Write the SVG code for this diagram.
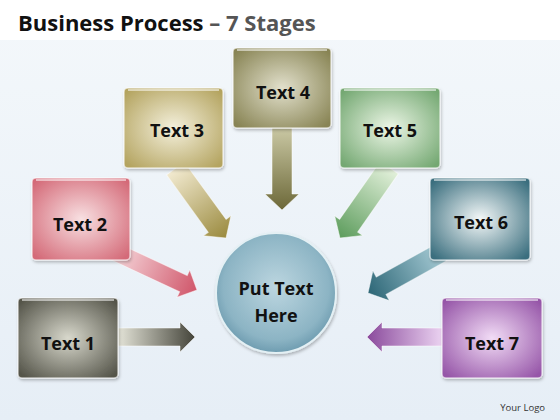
<svg xmlns="http://www.w3.org/2000/svg" width="560" height="420" viewBox="0 0 560 420">
<defs>
<linearGradient id="bg" x1="0" y1="0" x2="0" y2="1">
<stop offset="0" stop-color="#f4f8fb"/><stop offset="1" stop-color="#e6eef6"/>
</linearGradient>
<radialGradient id="g1" cx="0.5" cy="0.5" r="0.65"><stop offset="0" stop-color="#d8d8cc"/><stop offset="1" stop-color="#55554a"/></radialGradient>
<radialGradient id="g2" cx="0.5" cy="0.5" r="0.65"><stop offset="0" stop-color="#f8e0e2"/><stop offset="1" stop-color="#d46a78"/></radialGradient>
<radialGradient id="g3" cx="0.5" cy="0.5" r="0.65"><stop offset="0" stop-color="#f4f0dc"/><stop offset="1" stop-color="#b4a460"/></radialGradient>
<radialGradient id="g4" cx="0.5" cy="0.5" r="0.65"><stop offset="0" stop-color="#e2e0cc"/><stop offset="1" stop-color="#888454"/></radialGradient>
<radialGradient id="g5" cx="0.5" cy="0.5" r="0.65"><stop offset="0" stop-color="#ecf6e6"/><stop offset="1" stop-color="#74a872"/></radialGradient>
<radialGradient id="g6" cx="0.5" cy="0.5" r="0.65"><stop offset="0" stop-color="#f4f8f8"/><stop offset="1" stop-color="#3a6e7e"/></radialGradient>
<radialGradient id="g7" cx="0.5" cy="0.5" r="0.65"><stop offset="0" stop-color="#f2dcf6"/><stop offset="1" stop-color="#9656a8"/></radialGradient>
<radialGradient id="gc" cx="0.5" cy="0.45" r="0.55"><stop offset="0" stop-color="#bcd6e0"/><stop offset="0.8" stop-color="#8cb4c4"/><stop offset="1" stop-color="#6e9cb0"/></radialGradient>
<linearGradient id="a1" x1="0" y1="0" x2="1" y2="0"><stop offset="0" stop-color="#e4e4d8"/><stop offset="1" stop-color="#44443a"/></linearGradient>
<linearGradient id="a2" x1="0" y1="0" x2="1" y2="0"><stop offset="0" stop-color="#f6d8dc"/><stop offset="1" stop-color="#d0566a"/></linearGradient>
<linearGradient id="a3" x1="0" y1="0" x2="1" y2="0"><stop offset="0" stop-color="#f2ead0"/><stop offset="1" stop-color="#9a8a3e"/></linearGradient>
<linearGradient id="a4" x1="0" y1="0" x2="1" y2="0"><stop offset="0" stop-color="#cac8a4"/><stop offset="1" stop-color="#6c6838"/></linearGradient>
<linearGradient id="a5" x1="0" y1="0" x2="1" y2="0"><stop offset="0" stop-color="#e2f0da"/><stop offset="1" stop-color="#5c9c5c"/></linearGradient>
<linearGradient id="a6" x1="0" y1="0" x2="1" y2="0"><stop offset="0" stop-color="#a8ccd6"/><stop offset="1" stop-color="#2c6676"/></linearGradient>
<linearGradient id="a7" x1="0" y1="0" x2="1" y2="0"><stop offset="0" stop-color="#ecd4f2"/><stop offset="1" stop-color="#8a4a9c"/></linearGradient>
<filter id="sh" x="-10%" y="-10%" width="130%" height="130%"><feDropShadow dx="1" dy="2" stdDeviation="1.5" flood-color="#000" flood-opacity="0.25"/></filter>
</defs>
<style>
.box{stroke:#ffffff;stroke-opacity:0.6;stroke-width:1.5;filter:url(#sh)}
.hl{fill:none;stroke:#ffffff;stroke-opacity:0.7;stroke-width:1.5}
.lbl{font-family:"Open Sans",Lato,"Liberation Sans",sans-serif;font-weight:bold;font-size:18px;fill:#111;text-anchor:middle}
.arr{stroke:#ffffff;stroke-opacity:0.5;stroke-width:1}
</style>
<rect width="560" height="420" fill="url(#bg)"/>
<rect width="560" height="40" fill="#ffffff"/>
<text x="18" y="31" font-family="'Open Sans',Lato,'Liberation Sans',sans-serif" font-weight="bold" font-size="22" fill="#111">Business Process<tspan fill="#555"> – 7 Stages</tspan></text>

<g id="connectors">
<polygon class="arr" fill="url(#a1)" transform="translate(195,337)" points="-77,-9 -15,-9 -15,-15 0,0 -15,15 -15,9 -77,9"/>
<polygon class="arr" fill="url(#a2)" transform="translate(197,290) rotate(25)" points="-90,-9 -15,-9 -15,-15 0,0 -15,15 -15,9 -90,9"/>
<polygon class="arr" fill="url(#a3)" transform="translate(226,238) rotate(54)" points="-86,-11 -15,-11 -15,-17 0,0 -15,17 -15,11 -86,11"/>
<polygon class="arr" fill="url(#a4)" transform="translate(282,210) rotate(90)" points="-82,-10 -16,-10 -16,-17 0,0 -16,17 -16,10 -82,10"/>
<polygon class="arr" fill="url(#a5)" transform="translate(340,238) rotate(125)" points="-86,-11 -15,-11 -15,-17 0,0 -15,17 -15,11 -86,11"/>
<polygon class="arr" fill="url(#a6)" transform="translate(368,293) rotate(151)" points="-84,-10 -15,-10 -15,-17 0,0 -15,17 -15,10 -84,10"/>
<polygon class="arr" fill="url(#a7)" transform="translate(367,337) rotate(180)" points="-76,-9 -15,-9 -15,-15 0,0 -15,15 -15,9 -76,9"/>
</g>

<g id="center">
<circle cx="276" cy="293" r="60" fill="url(#gc)" stroke="#e4f0f4" stroke-width="2" filter="url(#sh)"/>
<text class="lbl" x="276" y="295">Put Text</text>
<text class="lbl" x="276" y="322">Here</text>
</g>

<g id="n1">
<rect class="box" x="18" y="298" width="100" height="80" rx="4" fill="url(#g1)"/>
<line class="hl" x1="22" y1="300" x2="114" y2="300"/>
<text class="lbl" x="68" y="350">Text 1</text>
</g>
<g id="n2">
<rect class="box" x="32" y="178" width="98" height="82" rx="4" fill="url(#g2)"/>
<line class="hl" x1="36" y1="180" x2="126" y2="180"/>
<text class="lbl" x="80" y="231">Text 2</text>
</g>
<g id="n3">
<rect class="box" x="124" y="88" width="99" height="80" rx="4" fill="url(#g3)"/>
<line class="hl" x1="128" y1="90" x2="219" y2="90"/>
<text class="lbl" x="177" y="137">Text 3</text>
</g>
<g id="n4">
<rect class="box" x="233" y="48" width="98" height="80" rx="4" fill="url(#g4)"/>
<line class="hl" x1="237" y1="50" x2="327" y2="50"/>
<text class="lbl" x="283" y="99">Text 4</text>
</g>
<g id="n5">
<rect class="box" x="340" y="88" width="100" height="80" rx="4" fill="url(#g5)"/>
<line class="hl" x1="344" y1="90" x2="436" y2="90"/>
<text class="lbl" x="390" y="137">Text 5</text>
</g>
<g id="n6">
<rect class="box" x="430" y="178" width="100" height="82" rx="4" fill="url(#g6)"/>
<line class="hl" x1="434" y1="180" x2="526" y2="180"/>
<text class="lbl" x="481" y="229">Text 6</text>
</g>
<g id="n7">
<rect class="box" x="442" y="298" width="100" height="80" rx="4" fill="url(#g7)"/>
<line class="hl" x1="446" y1="300" x2="538" y2="300"/>
<text class="lbl" x="492" y="350">Text 7</text>
</g>

<text x="545" y="411" font-family="'Open Sans',Lato,'Liberation Sans',sans-serif" font-size="9.5" fill="#333" text-anchor="end">Your Logo</text>
</svg>
